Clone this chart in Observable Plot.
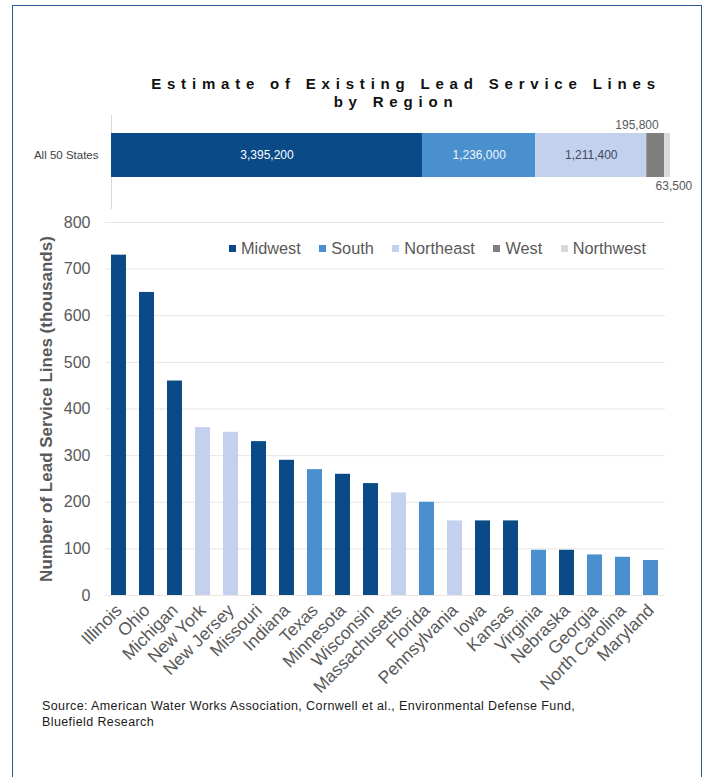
<!DOCTYPE html>
<html>
<head>
<meta charset="utf-8">
<script src="https://cdn.jsdelivr.net/npm/d3@7"></script>
<script src="https://cdn.jsdelivr.net/npm/@observablehq/plot@0.6"></script>
<style>
  html, body { margin: 0; padding: 0; background: #fff; width: 717px; height: 777px; overflow: hidden; }
  body { font-family: "Liberation Sans", Arial, sans-serif; position: relative; }
  #frame { position: absolute; left: 12px; top: 5px; width: 690px; height: 800px; border: 1.5px solid #2f5597; box-sizing: border-box; }
  #title { position: absolute; left: 106px; width: 600px; top: 75px; text-align: center; font-weight: bold; font-size: 15px; letter-spacing: 5.8px; line-height: 18px; color: #111; }
  #title .l2 { position: relative; left: -10px; }
  #topChart { position: absolute; left: 0; top: 110px; }
  #bottomChart { position: absolute; left: 0; top: 200px; }
  #legend { position: absolute; left: 229px; top: 239px; display: flex; font-size: 16.3px; color: #595959; white-space: nowrap; }
  #legend .item { display: flex; align-items: center; margin-right: 18.5px; }
  #legend .sw { width: 7px; height: 7px; margin-right: 5px; }
  #source { position: absolute; left: 42px; top: 698px; font-size: 12.5px; letter-spacing: 0.4px; line-height: 16px; color: #1a1a1a; }
  svg text { font-family: "Liberation Sans", Arial, sans-serif; }
  #bottomChart g[aria-label="y-axis label"] text { font-weight: bold; font-size: 17px; fill: #595959; }
</style>
</head>
<body>
<div id="frame"></div>
<div id="title">Estimate of Existing Lead Service Lines<br><span class="l2">by Region</span></div>
<div id="topChart"></div>
<div id="bottomChart"></div>
<div id="legend"></div>
<div id="source">Source: American Water Works Association, Cornwell et al., Environmental Defense Fund,<br>Bluefield Research</div>
<script>
// ---- data ----
const regions = ["Midwest", "South", "Northeast", "West", "Northwest"];
const regionTotals = [3395200, 1236000, 1211400, 195800, 63500];
const regionColors = ["#0a4a87", "#4a90cf", "#c3d1ef", "#7f7f7f", "#d9d9d9"];
const totalLabel = "All 50 States";

const states = ["Illinois", "Ohio", "Michigan", "New York", "New Jersey", "Missouri", "Indiana", "Texas",
  "Minnesota", "Wisconsin", "Massachusetts", "Florida", "Pennsylvania", "Iowa", "Kansas", "Virginia",
  "Nebraska", "Georgia", "North Carolina", "Maryland"];
const stateValues = [730, 650, 460, 360, 350, 330, 290, 270, 260, 240, 220, 200, 160, 160, 160, 97, 97, 87, 82, 75];
const stateRegions = ["Midwest", "Midwest", "Midwest", "Northeast", "Northeast", "Midwest", "Midwest", "South",
  "Midwest", "Midwest", "Northeast", "South", "Northeast", "Midwest", "Midwest", "South",
  "Midwest", "South", "South", "South"];
const yTicks = [0, 100, 200, 300, 400, 500, 600, 700, 800];
const yLabel = "Number of Lead Service Lines (thousands)";

// ---- tables ----
let acc = 0;
const regionData = regions.map((r, i) => {
  const start = acc;
  acc += regionTotals[i];
  return {region: r, value: regionTotals[i], group: totalLabel, start, end: acc, mid: start + regionTotals[i] / 2};
});
const stateData = states.map((s, i) => ({state: s, value: stateValues[i], region: stateRegions[i]}));
const fmt = d3.format(",");
const colorScale = {domain: regions, range: regionColors};

// ---- top stacked bar ----
const inside = new Set(["Midwest", "South", "Northeast"]);
const labelFill = {Midwest: "#ffffff", South: "#f0f4fa", Northeast: "#3f4a5a"};
const topPlot = Plot.plot({
  width: 717,
  height: 110,
  marginLeft: 111,
  marginRight: 47,
  marginTop: 5,
  marginBottom: 11,
  x: {axis: null, domain: [0, acc]},
  y: {domain: [totalLabel], padding: 0.362, align: 0.36, label: null},
  color: colorScale,
  marks: [
    Plot.ruleX([0], {stroke: "#d9d9d9", strokeWidth: 1}),
    Plot.barX(regionData, {x1: "start", x2: "end", y: "group", fill: "region"}),
    Plot.axisY({tickSize: 0, tickPadding: 13, fontSize: 11.5, color: "#404040", label: null}),
    Plot.text(regionData.filter(d => inside.has(d.region)), {x: "mid", y: "group",
      text: d => fmt(d.value), fill: d => labelFill[d.region], fontSize: 12}),
    Plot.text(regionData.filter(d => d.region === "West"), {x: "mid", y: "group",
      text: d => fmt(d.value), fill: "#595959", fontSize: 12, dy: -30, dx: 3, textAnchor: "end"}),
    Plot.text(regionData.filter(d => d.region === "Northwest"), {x: "mid", y: "group",
      text: d => fmt(d.value), fill: "#595959", fontSize: 12, dy: 31, dx: -12, textAnchor: "start"})
  ]
});
document.getElementById("topChart").appendChild(topPlot);

// ---- bottom bar chart ----
const bottomPlot = Plot.plot({
  width: 717,
  height: 500,
  marginLeft: 105,
  marginRight: 52,
  marginTop: 22,
  marginBottom: 105,
  x: {domain: states, paddingInner: 0.45, paddingOuter: 0.21, label: null},
  y: {domain: [0, 800], ticks: yTicks, label: null},
  color: colorScale,
  marks: [
    Plot.gridY(yTicks.filter(t => t > 0), {stroke: "#e6e6e6", strokeOpacity: 1}),
    Plot.ruleY([0], {stroke: "#ece6dc"}),
    Plot.barY(stateData, {x: "state", y: "value", fill: "region"}),
    Plot.axisX({tickRotate: -45, tickSize: 0, tickPadding: 12, fontSize: 17.5, color: "#595959", label: null}),
    Plot.axisY({ticks: yTicks, tickSize: 0, tickPadding: 15, fontSize: 16, color: "#595959",
      label: yLabel, labelAnchor: "center", labelOffset: 66, labelArrow: "none"})
  ]
});
document.getElementById("bottomChart").appendChild(bottomPlot);

// ---- legend ----
const legend = document.getElementById("legend");
regions.forEach((r, i) => {
  const item = document.createElement("div");
  item.className = "item";
  const sw = document.createElement("span");
  sw.className = "sw";
  sw.style.background = regionColors[i];
  item.appendChild(sw);
  item.appendChild(document.createTextNode(r));
  legend.appendChild(item);
});
</script>
</body>
</html>
